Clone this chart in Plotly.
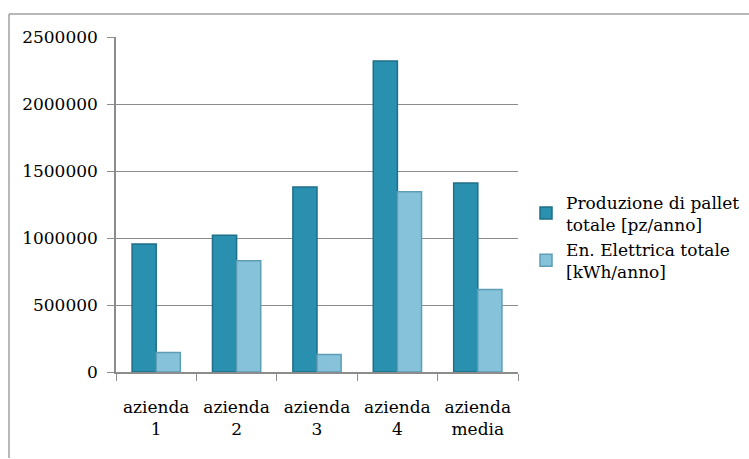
import plotly.graph_objects as go

categories = ["azienda<br>1", "azienda<br>2", "azienda<br>3", "azienda<br>4", "azienda<br>media"]
produzione = [955000, 1020000, 1380000, 2320000, 1410000]
energia = [145000, 830000, 130000, 1345000, 615000]
series_names = ["Produzione di pallet<br>totale [pz/anno]", "En. Elettrica totale<br>[kWh/anno]"]
y_ticks = [0, 500000, 1000000, 1500000, 2000000, 2500000]

W, H = 749, 459
L, R, T, B = 116, 518, 37, 372  # plot area in pixels


def px_x(x):
    return (x - L) / (R - L)


def px_y(y):
    return (B - y) / (B - T)


font_family = "DejaVu Serif"
grey = "#8c8c8c"

fig = go.Figure()
fig.add_trace(go.Bar(
    x=categories, y=produzione, name=series_names[0],
    marker=dict(color="#2A90AF", line=dict(color="#1E6F88", width=1.5)),
))
fig.add_trace(go.Bar(
    x=categories, y=energia, name=series_names[1],
    marker=dict(color="#86C3DA", line=dict(color="#5E9DB6", width=1.5)),
))

fig.update_layout(
    width=W, height=H,
    margin=dict(l=L, r=W - R, t=T, b=H - B, autoexpand=False),
    paper_bgcolor="white", plot_bgcolor="white",
    font=dict(family=font_family, size=17, color="black"),
    barmode="group", bargap=0.4, bargroupgap=0.0,
    showlegend=True,
    legend=dict(
        x=px_x(526), y=px_y(237), xanchor="left", yanchor="middle",
        font=dict(family=font_family, size=17), tracegroupgap=2,
        bgcolor="rgba(0,0,0,0)",
    ),
    xaxis=dict(
        showline=True, linecolor=grey, linewidth=1.5,
        ticks="outside", tickson="boundaries", ticklen=7, tickcolor=grey,
        showgrid=False, ticklabelstandoff=19,
        tickfont=dict(family=font_family, size=17),
    ),
    yaxis=dict(
        range=[0, 2500000], tickvals=y_ticks, tickformat="d",
        showline=True, linecolor=grey, linewidth=1.5,
        ticks="outside", ticklen=7, tickcolor=grey,
        showgrid=True, gridcolor=grey, gridwidth=1.2,
        zeroline=False, ticklabelstandoff=6,
        tickfont=dict(family=font_family, size=17),
    ),
    shapes=[
        # outer chart frame (top and left edges)
        dict(type="line", xref="paper", yref="paper",
             x0=px_x(9), y0=px_y(14), x1=px_x(752), y1=px_y(14),
             line=dict(color="#a0a0a0", width=1.5)),
        dict(type="line", xref="paper", yref="paper",
             x0=px_x(9), y0=px_y(14), x1=px_x(9), y1=px_y(458),
             line=dict(color="#a0a0a0", width=1.5)),
    ],
)

fig.write_html("out.html")
